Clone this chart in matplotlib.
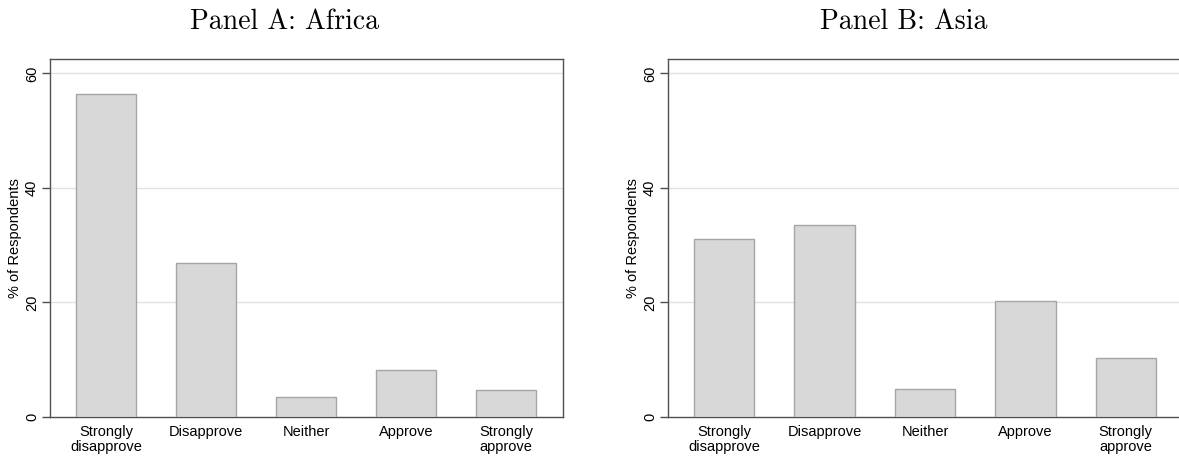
import numpy as np
import matplotlib.pyplot as plt

plt.rcParams['font.family'] = ['Liberation Sans', 'DejaVu Sans']

categories = ['Strongly\ndisapprove', 'Disapprove', 'Neither', 'Approve', 'Strongly\napprove']
africa = [56.4, 26.9, 3.5, 8.2, 4.7]
asia = [31.0, 33.5, 4.9, 20.2, 10.3]
yticks = [0, 20, 40, 60]

W, H = 1179, 459
fig = plt.figure(figsize=(W / 100, H / 100), dpi=100)

def panel(left, right, values, title, title_x):
    ax = fig.add_axes([left / W, (H - 417) / H, (right - left) / W, (417 - 58.5) / H])
    x = np.arange(len(values))
    ax.bar(x, values, width=0.6, color='#d8d8d8', edgecolor='#a5a5a5', linewidth=1.0, zorder=3)
    ax.set_xlim(-0.56, len(values) - 1 + 0.57)
    ax.set_ylim(0, 62.6)
    ax.set_yticks(yticks)
    ax.set_yticklabels([str(t) for t in yticks], rotation=90, va='center', fontsize=10.5)
    ax.set_xticks(x)
    ax.set_xticklabels(categories, fontsize=10.5, linespacing=1.1)
    ax.tick_params(axis='x', length=0, pad=6)
    ax.tick_params(axis='y', length=6, width=1, color='#505050', pad=2)
    ax.set_ylabel('% of Respondents', fontsize=10.5, labelpad=2)
    for yv in yticks[1:]:
        ax.axhline(yv, color='#e2e2e2', linewidth=1.0, zorder=1)
    for s in ax.spines.values():
        s.set_color('#505050')
        s.set_linewidth(1.0)
    # Computer Modern (cmr10 ships with matplotlib)
    fig.text(title_x / W, 1 - 22 / H, title, family='cmr10',
             ha='center', va='center', fontsize=20)
    return ax

panel(50, 563, africa, 'Panel A: Africa', 285)
panel(668, 1183, asia, 'Panel B: Asia', 904)

fig.savefig('out.png', dpi=100, facecolor='white')
